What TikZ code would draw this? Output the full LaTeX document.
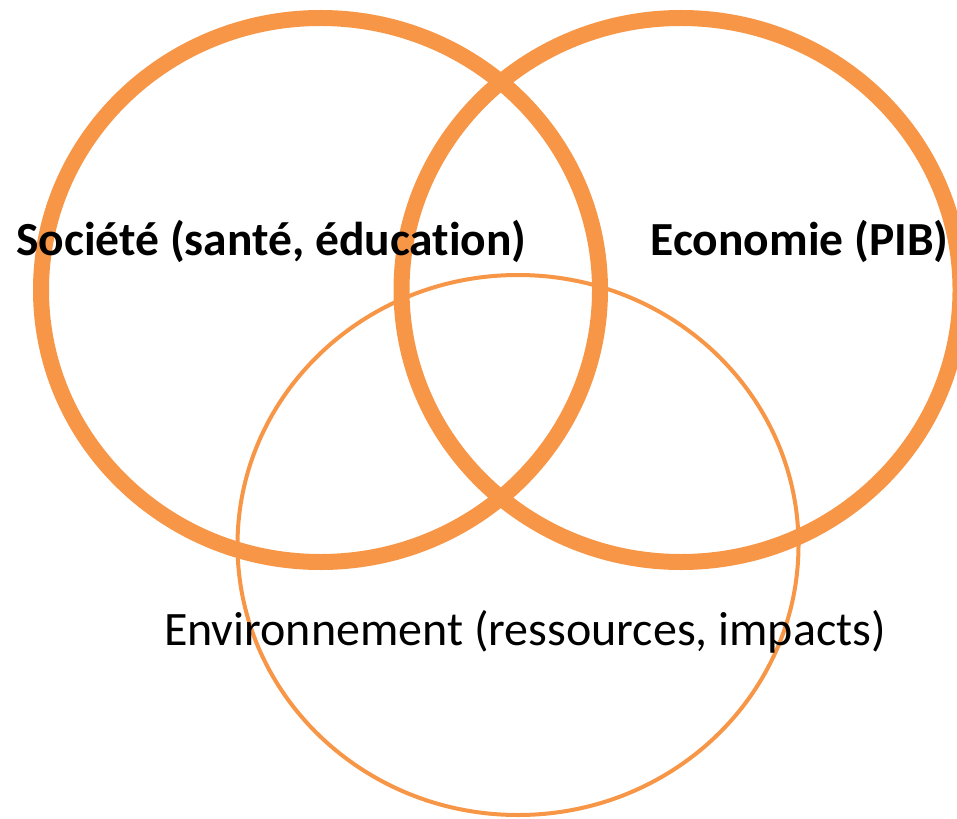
\documentclass[tikz,border=0pt]{standalone}
\usepackage{fontspec}
\setmainfont{Carlito}[Ligatures=NoCommon]
\definecolor{ringorange}{HTML}{F79646}
\begin{document}
\begin{tikzpicture}[x=1pt,y=-1pt,
  thickring/.style={draw=ringorange,line width=16pt},
  thinring/.style={draw=ringorange,line width=4pt},
  lbl/.style={anchor=base,inner sep=0pt,font=\fontsize{48}{57}\selectfont}]
\useasboundingbox (0,0) rectangle (957,818);
\begin{scope}
\clip (0,0) rectangle (957,818);
\draw[thickring] (320.5,290) ellipse [x radius=279.5, y radius=272];
\draw[thickring] (681,290) ellipse [x radius=279.5, y radius=272];
\draw[thinring] (518,545) ellipse [x radius=280.5, y radius=270];
\end{scope}
\node[lbl,font=\fontsize{47.5}{57}\selectfont\bfseries] (soc) at (271.5,255) {Société (santé, éducation)};
\node[lbl,font=\fontsize{47.5}{57}\selectfont\bfseries] (eco) at (799.5,255) {Economie (PIB)};
\node[lbl] (env) at (525,645) {Environnement (ressources, impacts)};
\end{tikzpicture}
\end{document}
